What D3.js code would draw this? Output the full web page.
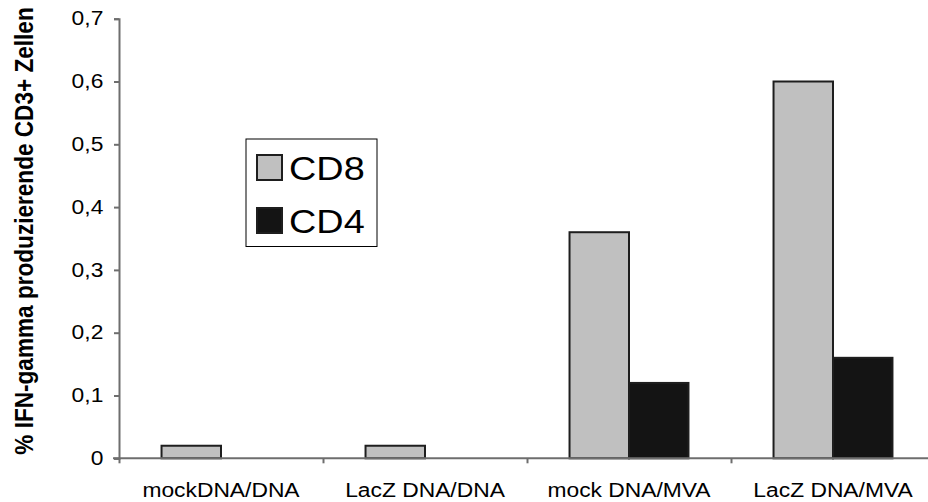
<!DOCTYPE html>
<html>
<head>
<meta charset="utf-8">
<script src="https://cdn.jsdelivr.net/npm/d3@7/dist/d3.min.js"></script>
<style>
  html, body { margin: 0; padding: 0; background: #fff; }
  svg { display: block; font-family: "Liberation Sans", Arial, sans-serif; }
</style>
</head>
<body>
<svg id="chart" width="928" height="502"></svg>
<script>
// Groups on the x axis
const categories = ["mockDNA/DNA", "LacZ DNA/DNA", "mock DNA/MVA", "LacZ DNA/MVA"];
// Series names
const seriesNames = ["CD8", "CD4"];
// % of IFN-gamma producing CD3+ cells per group
const cd8Values = [0.02, 0.02, 0.36, 0.60];
const cd4Values = [0, 0, 0.12, 0.16];
// Y axis ticks
const yTicks = [0, 0.1, 0.2, 0.3, 0.4, 0.5, 0.6, 0.7];
const yTitle = "% IFN-gamma produzierende CD3+ Zellen";

const seriesFill = { CD8: "#c0c0c0", CD4: "#141414" };
const axisColor = "#6e6e6e";
const stretch = 1.17; // glyphs are drawn slightly wide

const svg = d3.select("#chart");
const plotLeft = 119, plotRight = 935, plotTop = 18.7, plotBottom = 458.3;

const y = d3.scaleLinear().domain([0, 0.7]).range([plotBottom, plotTop]);
const x = d3.scaleBand().domain(categories).range([plotLeft, plotRight])
  .paddingInner(0.417).paddingOuter(0.2085);
const xs = d3.scaleBand().domain(seriesNames).range([0, x.bandwidth()]);
const xEdge = d3.scaleLinear().domain([0, categories.length]).range([plotLeft, plotRight]);

const rows = categories.map((c, i) => ({ cat: c, CD8: cd8Values[i], CD4: cd4Values[i] }));

// Bars
const groups = svg.append("g").selectAll("g").data(rows).join("g")
  .attr("transform", d => `translate(${x(d.cat)},0)`);
groups.selectAll("rect")
  .data(d => seriesNames.map(s => ({ s, v: d[s] })).filter(e => e.v > 0))
  .join("rect")
  .attr("x", e => xs(e.s))
  .attr("y", e => y(e.v))
  .attr("width", xs.bandwidth())
  .attr("height", e => plotBottom - y(e.v))
  .attr("fill", e => seriesFill[e.s])
  .attr("stroke", "#1e1e1e")
  .attr("stroke-width", 2);

// Y axis
const yAxis = svg.append("g").attr("transform", `translate(${plotLeft},0)`)
  .call(d3.axisLeft(y).tickValues(yTicks).tickSize(5).tickPadding(8.4)
    .tickFormat(d => d === 0 ? "0" : d3.format(".1f")(d).replace(".", ",")));
yAxis.select(".domain").attr("stroke", axisColor).attr("stroke-width", 2);
yAxis.selectAll(".tick line").attr("stroke", axisColor).attr("stroke-width", 2);
yAxis.selectAll(".tick text").attr("font-size", 19.5).attr("fill", "#000")
  .attr("font-family", "Liberation Sans, Arial, sans-serif")
  .attr("transform", `scale(${stretch},1)`);

// X axis: tick marks at group boundaries
const xAxis = svg.append("g").attr("transform", `translate(0,${plotBottom})`)
  .call(d3.axisBottom(xEdge).tickValues(d3.range(categories.length + 1)).tickSize(5).tickFormat(""));
xAxis.select(".domain").attr("stroke", axisColor).attr("stroke-width", 2)
  .attr("d", `M${plotLeft - 6},0H${plotRight}`);
xAxis.selectAll(".tick line").attr("stroke", axisColor).attr("stroke-width", 2);

// X labels
svg.append("g").selectAll("text").data(categories).join("text")
  .attr("transform", d => `translate(${x(d) + x.bandwidth() / 2},497) scale(${stretch},1)`)
  .attr("text-anchor", "middle")
  .attr("font-size", 19.5)
  .attr("fill", "#000")
  .text(d => d);

// Y title
svg.append("text")
  .attr("transform", `translate(33,231) scale(${stretch},1) rotate(-90)`)
  .attr("text-anchor", "middle")
  .attr("font-size", 22.6)
  .attr("font-weight", "bold")
  .attr("fill", "#000")
  .text(yTitle);

// Legend
const legend = svg.append("g");
legend.append("rect").attr("x", 246).attr("y", 139).attr("width", 131).attr("height", 107.5)
  .attr("fill", "#fff").attr("stroke", "#000").attr("stroke-width", 1);
const legendRows = legend.selectAll("g.item").data(seriesNames).join("g").attr("class", "item")
  .attr("transform", (d, i) => `translate(257,${155 + i * 53})`);
legendRows.append("rect").attr("width", 25).attr("height", 25)
  .attr("fill", d => seriesFill[d]).attr("stroke", "#1e1e1e").attr("stroke-width", 2);
legendRows.append("text")
  .attr("transform", `translate(32,25) scale(1.13,1)`)
  .attr("font-size", 33.5).attr("fill", "#000").text(d => d);
</script>
</body>
</html>
